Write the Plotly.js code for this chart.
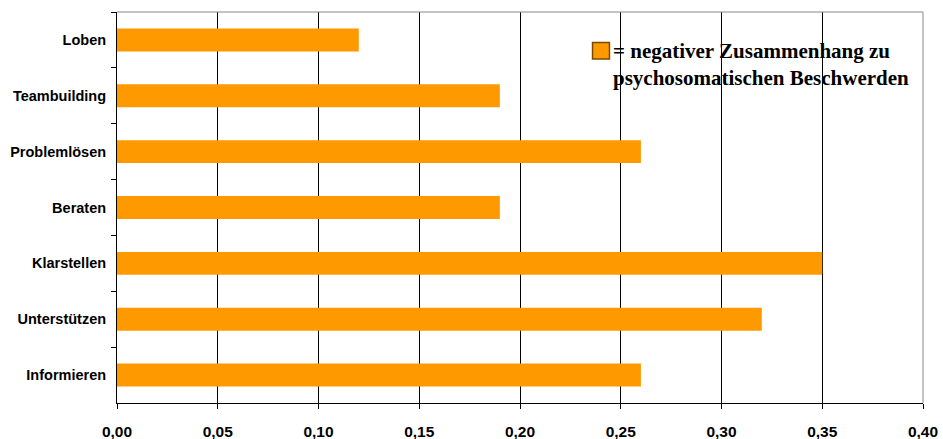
<!DOCTYPE html>
<html>
<head>
<meta charset="utf-8">
<script src="https://cdn.plot.ly/plotly-3.0.1.min.js"></script>
<style>html,body{margin:0;padding:0;background:#fff;}#chart{width:943px;height:439px;}</style>
</head>
<body>
<div id="chart"></div>
<script>
const categories = ["Loben", "Teambuilding", "Problemlösen", "Beraten", "Klarstellen", "Unterstützen", "Informieren"];
const values = [0.12, 0.19, 0.26, 0.19, 0.35, 0.32, 0.26];
const legendLines = ["= negativer Zusammenhang zu", "psychosomatischen Beschwerden"];
const xTicks = [0, 0.05, 0.10, 0.15, 0.20, 0.25, 0.30, 0.35, 0.40];
const xTickLabels = ["0,00", "0,05", "0,10", "0,15", "0,20", "0,25", "0,30", "0,35", "0,40"];

const trace = {
  type: "bar",
  orientation: "h",
  x: values,
  y: categories,
  name: legendLines.join(" "),
  marker: {color: "#FF9900", line: {width: 0}},
  showlegend: false
};

const layout = {
  width: 943, height: 439,
  margin: {l: 117, r: 20, t: 12, b: 36},
  paper_bgcolor: "#ffffff",
  plot_bgcolor: "#ffffff",
  bargap: 0.59,
  separators: ",.",
  font: {family: "Liberation Sans, Arial, sans-serif", color: "#000"},
  xaxis: {
    range: [0, 0.4],
    tickvals: xTicks,
    ticktext: xTickLabels,
    showgrid: true, gridcolor: "#000", gridwidth: 1,
    zeroline: false,
    showline: true, linecolor: "#000", linewidth: 1,
    ticks: "outside", ticklen: 5, tickcolor: "#000",
    ticklabelstandoff: 9,
    tickfont: {family: "Liberation Sans, Arial, sans-serif", size: 15.5, color: "#000", weight: "bold"}
  },
  yaxis: {
    type: "category",
    categoryorder: "array",
    categoryarray: categories,
    autorange: "reversed",
    showgrid: false,
    zeroline: false,
    showline: true, linecolor: "#000", linewidth: 1,
    ticks: "outside", ticklen: 5, tickcolor: "#000",
    tickson: "boundaries",
    ticklabelstandoff: 7,
    tickfont: {family: "Liberation Sans, Arial, sans-serif", size: 14.5, color: "#000", weight: "bold"}
  },
  annotations: [
    {
      xref: "paper", yref: "paper",
      x: 0.6128, y: 0.937, xanchor: "left", yanchor: "top", align: "left",
      showarrow: false,
      text: legendLines.map(s => "<b>" + s + "</b>").join("<br>"),
      font: {family: "Liberation Serif, Times New Roman, serif", size: 21, color: "#000"}
    }
  ],
  shapes: [
    {type: "line", xref: "paper", yref: "paper", x0: 0, x1: 1, y0: 1, y1: 1, line: {color: "#888", width: 1}, layer: "above"},
    {type: "line", xref: "paper", yref: "paper", x0: 1, x1: 1, y0: 0, y1: 1, line: {color: "#888", width: 1}, layer: "above"},
    {type: "rect", xref: "paper", yref: "paper", x0: 0.590, x1: 0.611, y0: 0.8798, y1: 0.922,
     fillcolor: "#FF9900", line: {color: "#7A4A00", width: 1.5}, layer: "above"}
  ]
};

Plotly.newPlot("chart", [trace], layout, {displayModeBar: false, staticPlot: true});
</script>
</body>
</html>
